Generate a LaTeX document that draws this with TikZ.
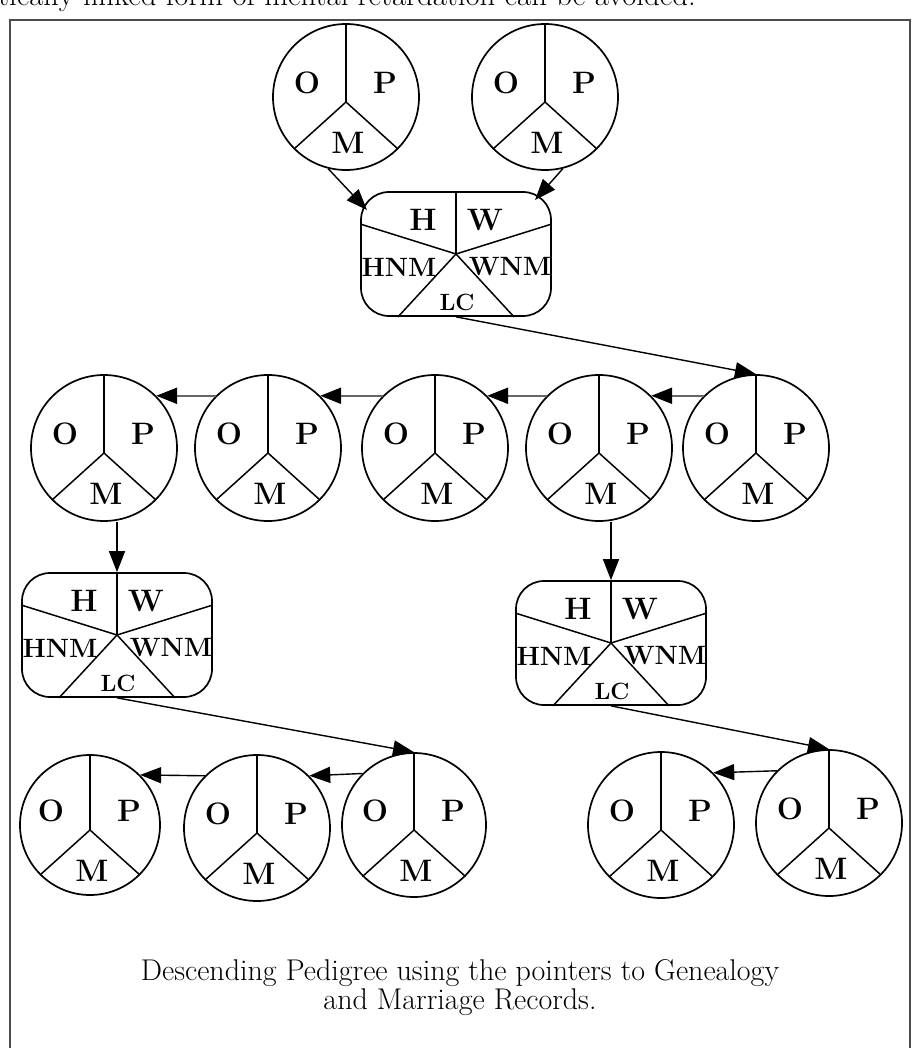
\documentclass[tikz,border=0pt]{standalone}
\usepackage{fontspec}
\usetikzlibrary{arrows.meta,calc}
\tikzset{
  person/.style={circle,draw,line width=1.7pt,inner sep=0pt,fill=white},
  couple/.style={draw,line width=1.7pt,rounded corners=28pt,inner sep=0pt,minimum width=190pt,minimum height=124pt},
  spoke/.style={line width=1.5pt},
  lab/.style={inner sep=0pt,font=\fontsize{31}{33}\selectfont\bfseries},
  slab/.style={inner sep=0pt,font=\fontsize{26.5}{28}\selectfont\bfseries},
  lclab/.style={inner sep=0pt,font=\fontsize{23.5}{25}\selectfont\bfseries},
  arr/.style={-{Triangle[length=21pt,width=16pt]},line width=1.4pt},
  harr/.style={-{Triangle[length=21pt,width=16pt,color=black]},line width=2.4pt,draw=black!60},
  frame/.style={draw=black!70,line width=2.2pt},
}
\newcommand\Person[4]{%
  \node[person,minimum size=2*#4pt] (#1) at (#2,#3) {};
  \coordinate (#1j) at ($(#1)+(0,5)$);
  \draw[spoke] (#1.north) -- (#1j);
  \draw[spoke] (#1.225) -- (#1j) -- (#1.315);
  \node[lab] (#1o) at ($(#1)+(-39,-14)$) {O};
  \node[lab] (#1p) at ($(#1)+(39,-14)$) {P};
  \node[lab] (#1m) at ($(#1)+(2,46)$) {M};
}
\newcommand\Couple[3]{%
  \node[couple] (#1) at (#2,#3) {};
  \coordinate (#1j) at (#1.center);
  \draw[spoke] (#1.north) -- (#1j);
  \draw[spoke] ($(#1.west)+(0,-30)$) -- (#1j) -- ($(#1.east)+(0,-30)$);
  \draw[spoke] ($(#1.south)+(-58,0)$) -- (#1j) -- ($(#1.south)+(58,0)$);
  \node[lab] (#1h) at ($(#1)+(-33,-34)$) {H};
  \node[lab] (#1w) at ($(#1)+(29,-34)$) {W};
  \node[slab] (#1hn) at ($(#1)+(-57,13)$) {HNM};
  \node[slab] (#1wn) at ($(#1)+(54,13)$) {WNM};
  \node[lclab] (#1lc) at ($(#1)+(1,48)$) {LC};
}
\begin{document}
\begin{tikzpicture}[x=1pt,y=-1pt]
\useasboundingbox (0,0) rectangle (914,1048);
\fill[white] (0,0) rectangle (914,1048);
\node[anchor=base west,inner sep=0pt,font=\fontsize{30.8}{32}\selectfont] (toptext) at (-2,6) {tically linked form of mental retardation can be avoided.};
\draw[frame] (10,20) rectangle (910,1075);

% generation 1
\Person{t1}{346}{97}{73}
\Person{t2}{545}{97}{73}
\Couple{b1}{456}{254}
% generation 2
\Person{r1}{104}{448}{73}
\Person{r2}{268}{448}{73}
\Person{r3}{435}{448}{73}
\Person{r4}{599}{448}{73}
\Person{r5}{756}{448}{73}
\Couple{b2}{117}{635}
\Couple{b3}{611}{643}
% generation 3
\Person{s1}{90}{825}{70}
\Person{s2}{257}{828}{73}
\Person{s3}{414}{825}{72}
\Person{s4}{661}{825}{73}
\Person{s5}{829}{823}{73}

% connectors
\draw[arr] (t1.256) -- ($(b1)+(-89,-44)$);
\draw[arr] (t2.284) -- ($(b1)+(79,-54)$);
\draw[arr] (b1.south) -- (r5.north);
\draw[harr] (r5.135) -- (r4.45);
\draw[harr] (r4.135) -- (r3.45);
\draw[harr] (r3.135) -- (r2.45);
\draw[harr] (r2.135) -- (r1.45);
\draw[arr] (r1.south -| b2.north) -- (b2.north);
\draw[arr] (r4.south -| b3.north) -- (b3.north);
\draw[arr] (b2.south) -- (s3.north);
\draw[arr] (s3.135) -- (s2.45);
\draw[arr] (s2.135) -- (s1.45);
\draw[arr] (b3.south) -- (s5.north);
\draw[arr] (s5.135) -- (s4.45);

\node[align=center,inner sep=0pt,font=\fontsize{30}{29}\selectfont] (caption) at (460,988)
  {Descending Pedigree using the pointers to Genealogy\\and Marriage Records.};
\end{tikzpicture}
\end{document}
